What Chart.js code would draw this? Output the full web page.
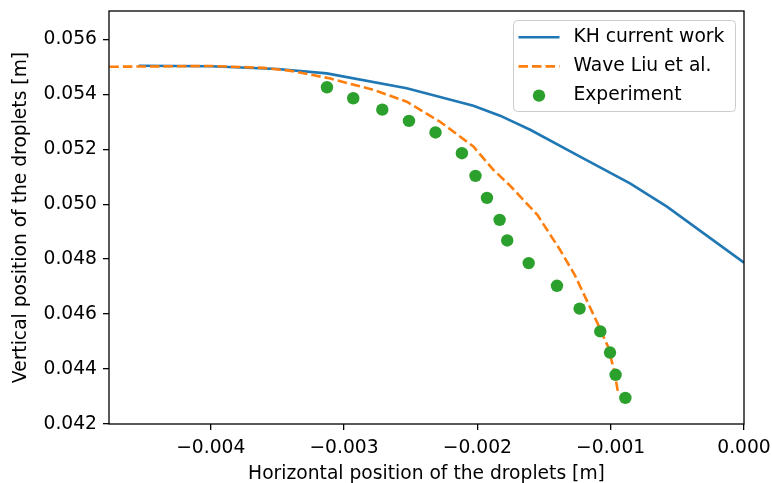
<!DOCTYPE html>
<html lang="en">
<head>
<meta charset="UTF-8">
<title>Droplet trajectory</title>
<script src="https://cdn.jsdelivr.net/npm/chart.js"></script>
<style>
    html, body { margin: 0; padding: 0; background: #fff; }
    #wrap { width: 772px; height: 483px; }
</style>
</head>
<body>
<div id="wrap"><canvas id="trajChart" width="772" height="483"></canvas></div>
<script>
// KH model, current work
const khX = [-0.00454, -0.0040, -0.0035, -0.00313, -0.00253, -0.00203, -0.00183, -0.00160, -0.00123, -0.000855, -0.000578, 0.0];
const khY = [0.05504, 0.05502, 0.05492, 0.05476, 0.05422, 0.05358, 0.05322, 0.05270, 0.05173, 0.05076, 0.04991, 0.04787];

// Wave model, Liu et al.
const waveX = [-0.00476, -0.0040, -0.0036, -0.00341, -0.00311, -0.00278, -0.00253, -0.00228, -0.00203, -0.00188,
               -0.00176, -0.00155, -0.00138, -0.00127, -0.00110, -0.00102, -0.00097, -0.000945];
const waveY = [0.05500, 0.05503, 0.05496, 0.05486, 0.05458, 0.05416, 0.05373, 0.05300, 0.05210, 0.05125,
               0.05070, 0.04961, 0.04834, 0.04743, 0.04568, 0.04481, 0.04387, 0.04314];

// measured droplet positions
const expX = [-0.003128, -0.002931, -0.002713, -0.002513, -0.002314, -0.002116, -0.002014, -0.001928, -0.001833,
              -0.001776, -0.001615, -0.001403, -0.001233, -0.001078, -0.001005, -0.000963, -0.00089];
const expY = [0.054255, 0.053855, 0.05344, 0.05303, 0.05261, 0.051855, 0.05103, 0.05023, 0.04943,
              0.04868, 0.047855, 0.04703, 0.0462, 0.04537, 0.0446, 0.04379, 0.04295];

const seriesNames = ['KH current work', 'Wave Liu et al.', 'Experiment'];

const xTicks = [-0.004, -0.003, -0.002, -0.001, 0.0];
const yTicks = [0.042, 0.044, 0.046, 0.048, 0.050, 0.052, 0.054, 0.056];
const xMin = -0.004763, xMax = 0.0;
const yMin = 0.042, yMax = 0.05703;

const FONT = { family: 'DejaVu Sans', size: 18.7 };

function toPoints(xs, ys) {
    return xs.map((x, i) => ({ x: x, y: ys[i] }));
}

function fmt(v) {
    return v.toFixed(3).replace('-', '\u2212');
}

// black frame round the plot area (all four sides)
const frame = {
    id: 'frame',
    afterDatasetsDraw(chart) {
        const a = chart.chartArea, ctx = chart.ctx;
        ctx.save();
        ctx.strokeStyle = '#000';
        ctx.lineWidth = 1.3;
        ctx.strokeRect(a.left, a.top, a.right - a.left, a.bottom - a.top);
        ctx.restore();
    }
};

// matplotlib-like legend box in the upper right corner
const boxLegend = {
    id: 'boxLegend',
    afterDraw(chart) {
        const ctx = chart.ctx, a = chart.chartArea;
        const w = 222, h = 91;
        const x0 = a.right - 8.5 - w, y0 = a.top + 9.5;
        ctx.save();
        ctx.beginPath();
        if (ctx.roundRect) ctx.roundRect(x0, y0, w, h, 4); else ctx.rect(x0, y0, w, h);
        ctx.fillStyle = 'rgba(255,255,255,0.8)';
        ctx.fill();
        ctx.strokeStyle = '#cccccc';
        ctx.lineWidth = 1;
        ctx.stroke();

        chart.data.datasets.forEach((ds, i) => {
            const cy = y0 + 16.7 + i * 29.2;
            if (ds.showLine) {
                ctx.beginPath();
                ctx.setLineDash(ds.borderDash || []);
                ctx.strokeStyle = ds.borderColor;
                ctx.lineWidth = ds.borderWidth;
                ctx.moveTo(x0 + 5, cy);
                ctx.lineTo(x0 + 46, cy);
                ctx.stroke();
                ctx.setLineDash([]);
            } else {
                ctx.beginPath();
                ctx.fillStyle = ds.backgroundColor;
                ctx.arc(x0 + 25.5, cy, ds.pointRadius, 0, Math.PI * 2);
                ctx.fill();
            }
            ctx.fillStyle = '#000';
            ctx.font = FONT.size + 'px "' + FONT.family + '"';
            ctx.textAlign = 'left';
            ctx.textBaseline = 'middle';
            ctx.fillText(ds.label, x0 + 60, cy);
        });
        ctx.restore();
    }
};

const ctx = document.getElementById('trajChart').getContext('2d');
new Chart(ctx, {
    type: 'scatter',
    data: {
        datasets: [{
            label: seriesNames[0],
            data: toPoints(khX, khY),
            showLine: true,
            borderColor: '#1f77b4',
            borderWidth: 2.6,
            pointRadius: 0,
            order: 3
        }, {
            label: seriesNames[1],
            data: toPoints(waveX, waveY),
            showLine: true,
            borderColor: '#ff7f0e',
            borderWidth: 2.6,
            borderDash: [9.5, 4],
            pointRadius: 0,
            order: 2
        }, {
            label: seriesNames[2],
            data: toPoints(expX, expY),
            showLine: false,
            backgroundColor: '#2ca02c',
            borderColor: '#2ca02c',
            borderWidth: 0,
            pointRadius: 6.2,
            order: 1
        }]
    },
    options: {
        responsive: false,
        animation: false,
        layout: { padding: { top: 11, right: 28, left: 0, bottom: 0 } },
        plugins: {
            legend: { display: false },
            tooltip: { enabled: false }
        },
        scales: {
            x: {
                type: 'linear',
                min: xMin,
                max: xMax,
                afterBuildTicks: s => { s.ticks = xTicks.map(v => ({ value: v })); },
                afterFit: s => { s.height = 59; s.paddingLeft = 0; s.paddingRight = 0; },
                border: { display: false },
                grid: { drawOnChartArea: false, drawTicks: true, tickLength: 6, color: '#000', lineWidth: 1.3 },
                ticks: { color: '#000', font: FONT, padding: 7, maxRotation: 0, autoSkip: false, callback: v => fmt(v) },
                title: {
                    display: true,
                    text: 'Horizontal position of the droplets [m]',
                    color: '#000',
                    font: FONT,
                    padding: { top: 0, bottom: -2 }
                }
            },
            y: {
                type: 'linear',
                min: yMin,
                max: yMax,
                afterBuildTicks: s => { s.ticks = yTicks.map(v => ({ value: v })); },
                afterFit: s => { s.width = 109; s.paddingTop = 0; s.paddingBottom = 0; },
                border: { display: false },
                grid: { drawOnChartArea: false, drawTicks: true, tickLength: 6, color: '#000', lineWidth: 1.3 },
                ticks: { color: '#000', font: FONT, padding: 6, autoSkip: false, callback: v => fmt(v) },
                title: {
                    display: true,
                    text: 'Vertical position of the droplets [m]',
                    color: '#000',
                    font: FONT,
                    padding: { top: 10, bottom: 0 }
                }
            }
        }
    },
    plugins: [frame, boxLegend]
});
</script>
</body>
</html>
